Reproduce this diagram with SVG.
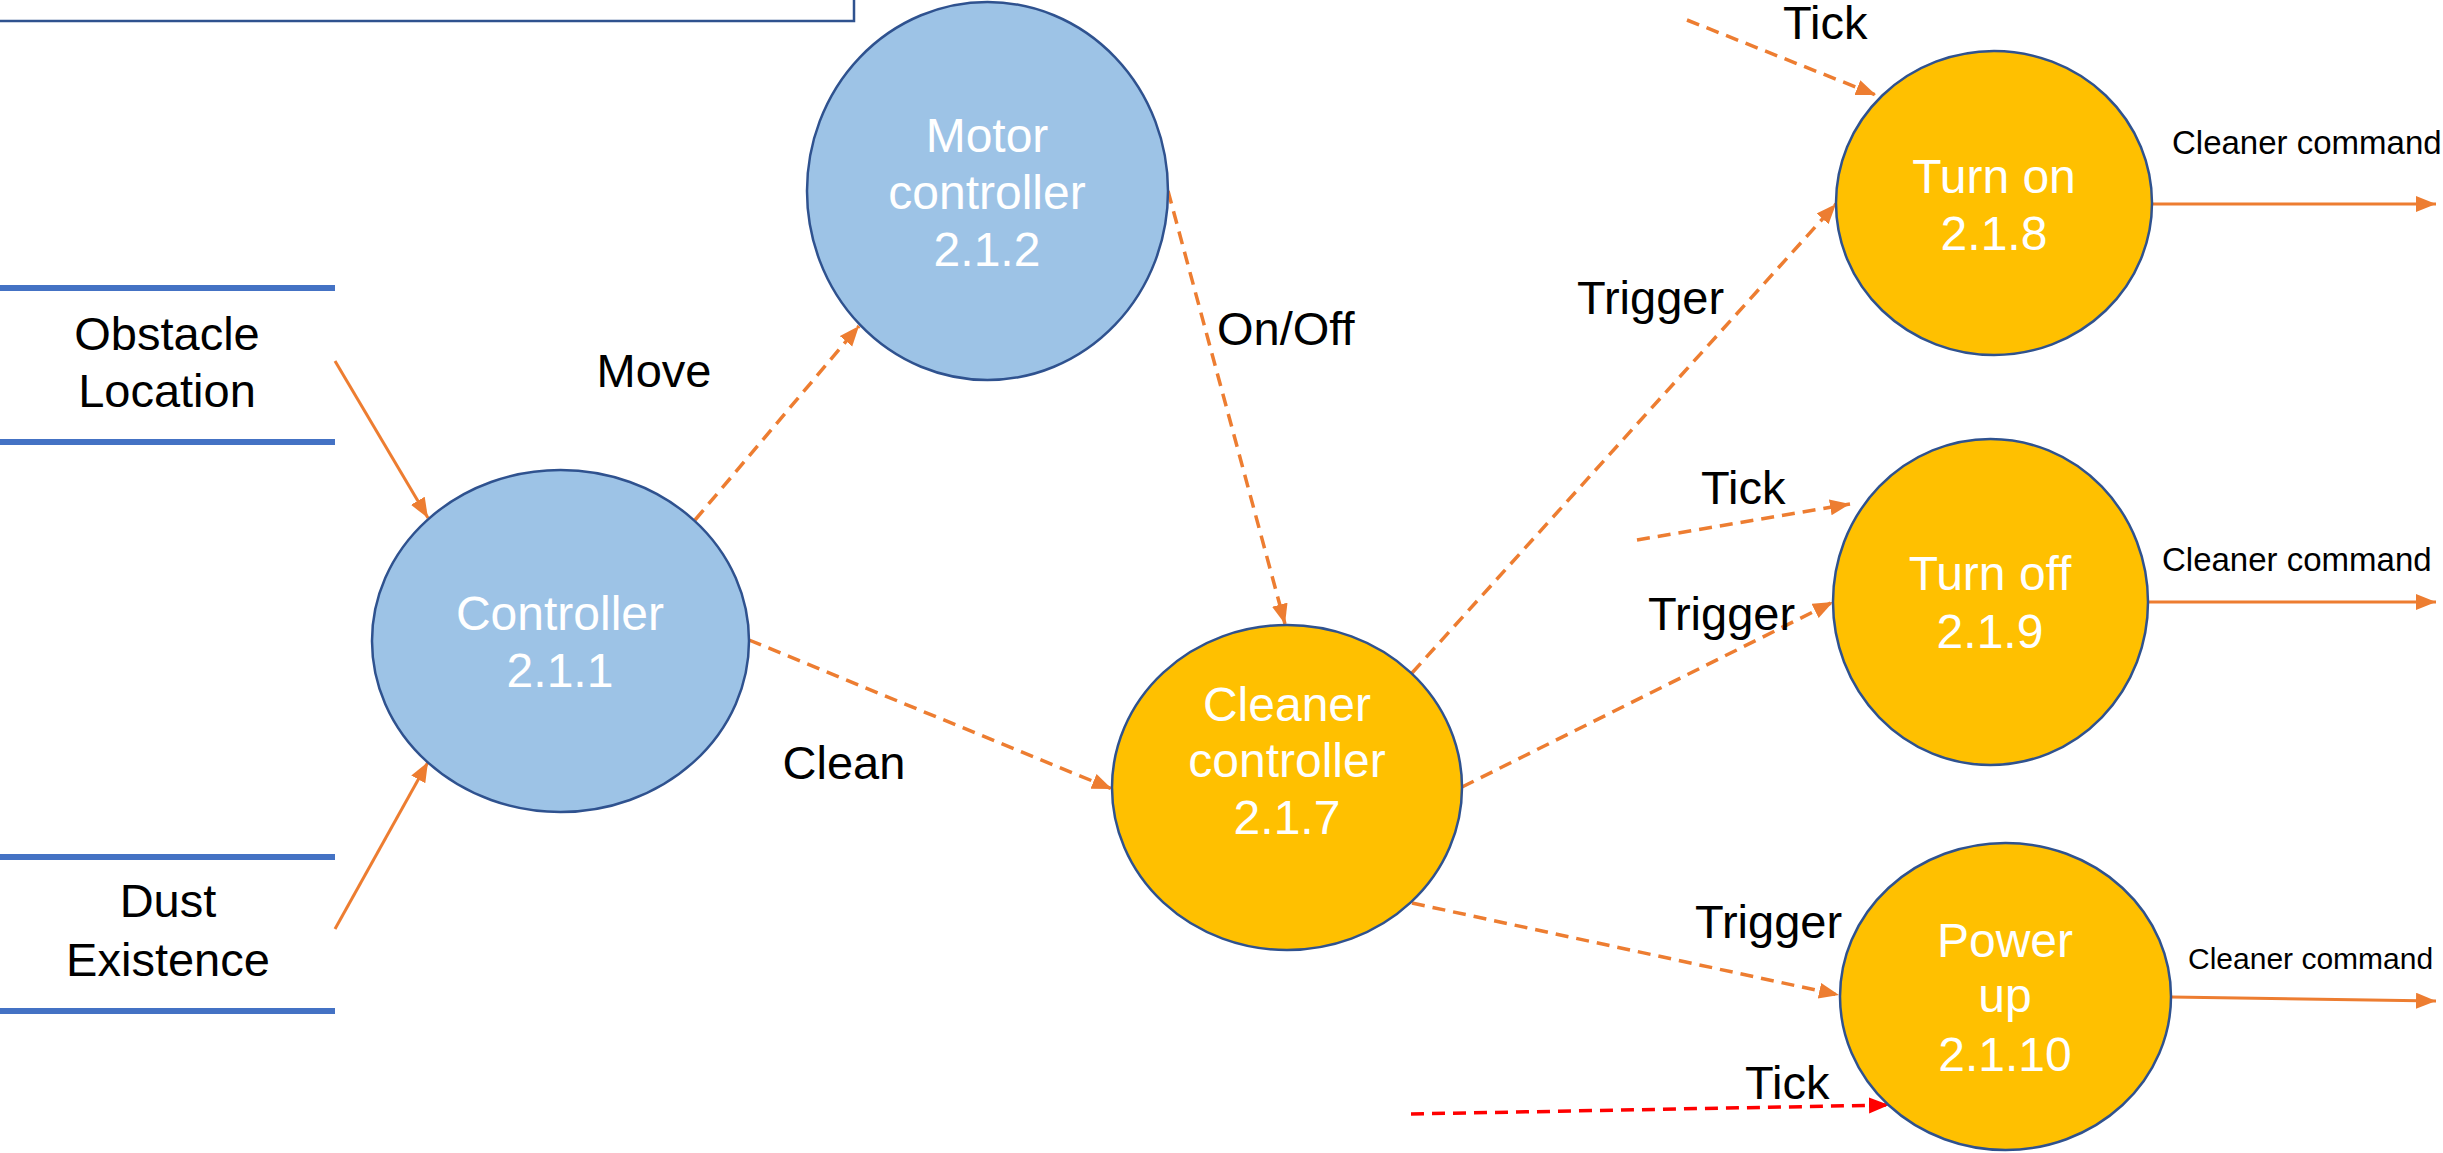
<svg xmlns="http://www.w3.org/2000/svg" width="2443" height="1153" viewBox="0 0 2443 1153">
<defs>
<style>
.blue{fill:#9DC3E6;stroke:#2F528F;stroke-width:2.5}
.gold{fill:#FFC000;stroke:#2F528F;stroke-width:2.5}
.nt{font-family:"Liberation Sans",Arial,sans-serif;font-size:48px;fill:#FFFFFF;text-anchor:middle}
.lb{font-family:"Liberation Sans",Arial,sans-serif;font-size:47px;fill:#000000}
.cc{font-family:"Liberation Sans",Arial,sans-serif;font-size:33px;fill:#000000}
.store{stroke:#4472C4;stroke-width:6;fill:none}
.solid{stroke:#ED7D31;stroke-width:3;fill:none}
.dash{stroke:#ED7D31;stroke-width:3.5;fill:none;stroke-dasharray:13 8}
.rdash{stroke:#FF0000;stroke-width:3.5;fill:none;stroke-dasharray:13 8}
</style>
<marker id="ah" markerUnits="userSpaceOnUse" markerWidth="22" markerHeight="18" refX="20" refY="8" orient="auto"><path d="M0,0 L20,8 L0,16 z" fill="#ED7D31"/></marker>
<marker id="ahr" markerUnits="userSpaceOnUse" markerWidth="22" markerHeight="18" refX="20" refY="8" orient="auto"><path d="M0,0 L20,8 L0,16 z" fill="#FF0000"/></marker>
</defs>
<rect x="0" y="0" width="2443" height="1153" fill="#FFFFFF"/>
<rect x="-5" y="-5" width="859" height="26" fill="#FFFFFF" stroke="#2F528F" stroke-width="2.5"/>

<g id="store-obstacle">
<line class="store" x1="0" y1="288" x2="335" y2="288"/>
<line class="store" x1="0" y1="442" x2="335" y2="442"/>
<text class="lb" x="167" y="350" text-anchor="middle">Obstacle</text>
<text class="lb" x="167" y="407" text-anchor="middle">Location</text>
</g>
<g id="store-dust">
<line class="store" x1="0" y1="857" x2="335" y2="857"/>
<line class="store" x1="0" y1="1011" x2="335" y2="1011"/>
<text class="lb" x="168" y="917" text-anchor="middle">Dust</text>
<text class="lb" x="168" y="976" text-anchor="middle">Existence</text>
</g>

<g id="connectors">
<line class="solid" x1="335" y1="361" x2="428" y2="518" marker-end="url(#ah)"/>
<line class="solid" x1="335" y1="929" x2="428" y2="762" marker-end="url(#ah)"/>
<line class="dash" x1="695" y1="520" x2="859" y2="326" marker-end="url(#ah)"/>
<line class="dash" x1="749" y1="640" x2="1112" y2="789" marker-end="url(#ah)"/>
<line class="dash" x1="1168" y1="191" x2="1285" y2="624" marker-end="url(#ah)"/>
<line class="dash" x1="1412" y1="673" x2="1836" y2="204" marker-end="url(#ah)"/>
<line class="dash" x1="1462" y1="787" x2="1833" y2="602" marker-end="url(#ah)"/>
<line class="dash" x1="1412" y1="903" x2="1839" y2="995" marker-end="url(#ah)"/>
<line class="dash" x1="1687" y1="20" x2="1876" y2="95" marker-end="url(#ah)"/>
<line class="dash" x1="1637" y1="540" x2="1850" y2="504" marker-end="url(#ah)"/>
<line class="rdash" x1="1411" y1="1114" x2="1889" y2="1105" marker-end="url(#ahr)"/>
<line class="solid" x1="2152" y1="204" x2="2436" y2="204" marker-end="url(#ah)"/>
<line class="solid" x1="2148" y1="602" x2="2436" y2="602" marker-end="url(#ah)"/>
<line class="solid" x1="2171" y1="997" x2="2436" y2="1001" marker-end="url(#ah)"/>
<text class="lb" x="654" y="387" text-anchor="middle">Move</text>
<text class="lb" x="844" y="779" text-anchor="middle">Clean</text>
<text class="lb" x="1217" y="345">On/Off</text>
<text class="lb" x="1577" y="314">Trigger</text>
<text class="lb" x="1648" y="630">Trigger</text>
<text class="lb" x="1695" y="938">Trigger</text>
<text class="lb" x="1783" y="39">Tick</text>
<text class="lb" x="1701" y="504">Tick</text>
<text class="lb" x="1745" y="1099">Tick</text>
<text class="cc" x="2172" y="154">Cleaner command</text>
<text class="cc" x="2162" y="571">Cleaner command</text>
<text class="cc" x="2188" y="969" style="font-size:30px">Cleaner command</text>
</g>

<g id="node-controller">
<ellipse class="blue" cx="560.5" cy="641" rx="188.5" ry="171"/>
<text class="nt" x="560" y="630">Controller</text>
<text class="nt" x="560" y="687">2.1.1</text>
</g>
<g id="node-motor">
<ellipse class="blue" cx="987.5" cy="191" rx="180.5" ry="189"/>
<text class="nt" x="987" y="152">Motor</text>
<text class="nt" x="987" y="209">controller</text>
<text class="nt" x="987" y="266">2.1.2</text>
</g>
<g id="node-cleaner">
<ellipse class="gold" cx="1287" cy="787.5" rx="175" ry="162.5"/>
<text class="nt" x="1287" y="721">Cleaner</text>
<text class="nt" x="1287" y="777">controller</text>
<text class="nt" x="1287" y="834">2.1.7</text>
</g>
<g id="node-turnon">
<ellipse class="gold" cx="1994" cy="203" rx="158" ry="152"/>
<text class="nt" x="1994" y="193">Turn on</text>
<text class="nt" x="1994" y="250">2.1.8</text>
</g>
<g id="node-turnoff">
<ellipse class="gold" cx="1990.5" cy="602" rx="157.5" ry="163"/>
<text class="nt" x="1990" y="590">Turn off</text>
<text class="nt" x="1990" y="648">2.1.9</text>
</g>
<g id="node-powerup">
<ellipse class="gold" cx="2005.5" cy="996.5" rx="165.5" ry="153.5"/>
<text class="nt" x="2005" y="957">Power</text>
<text class="nt" x="2005" y="1012">up</text>
<text class="nt" x="2005" y="1071">2.1.10</text>
</g>
</svg>
